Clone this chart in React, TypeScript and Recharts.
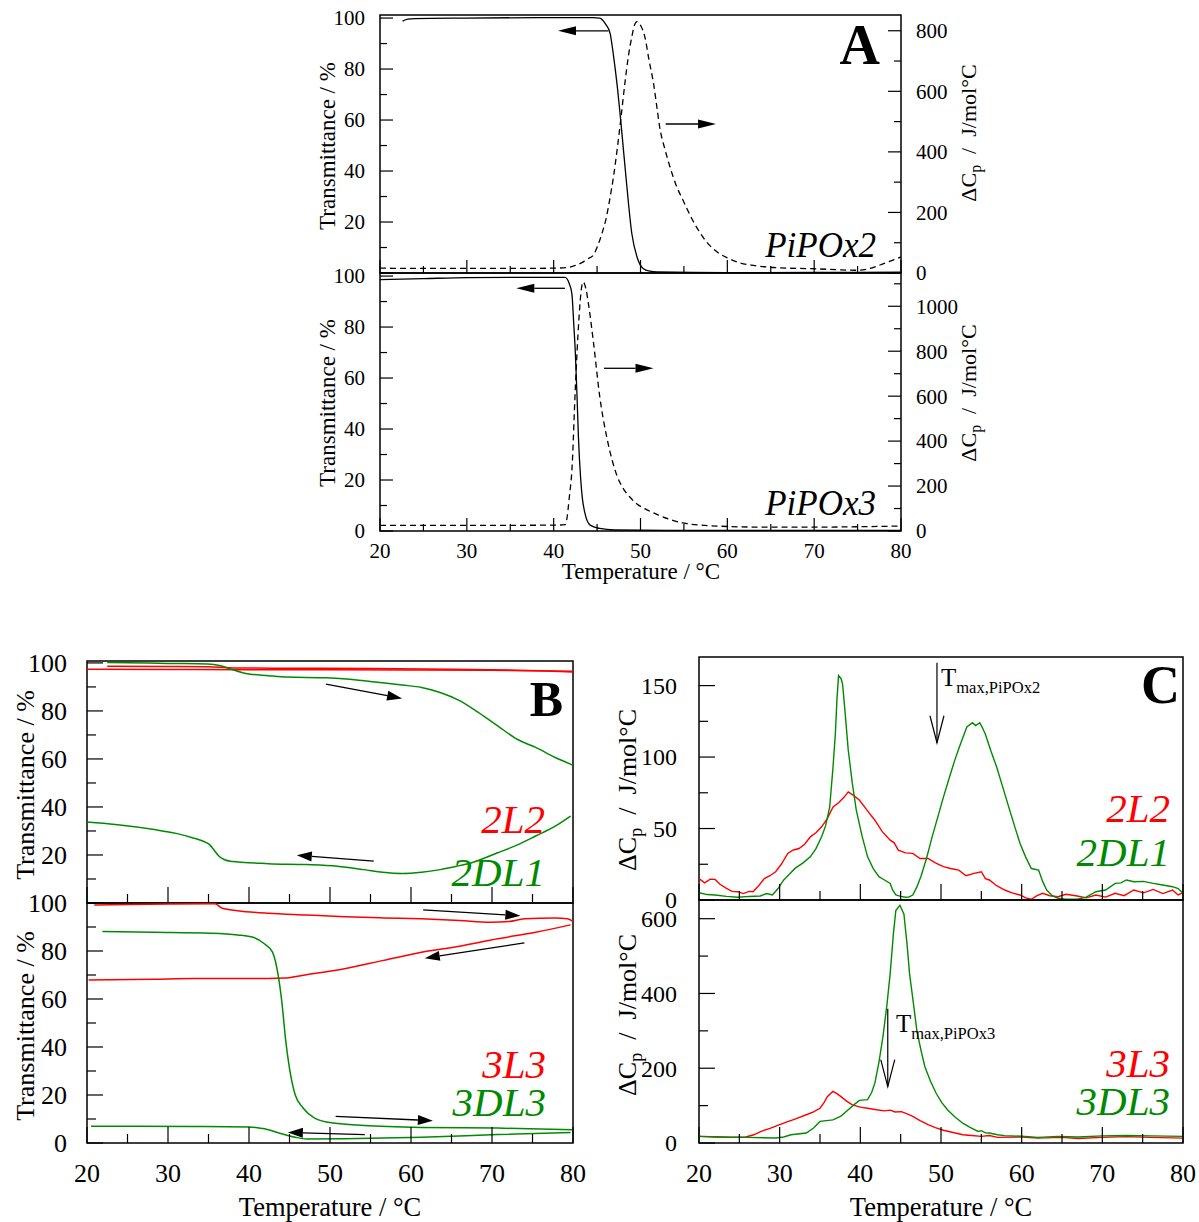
import { Line, LineChart, ReferenceArea, ReferenceLine, XAxis, YAxis } from "recharts";

type Pair = [number, number];
const SERIF = "'Liberation Serif', 'Times New Roman', serif";
const RED = "#ff0000";
const GREEN = "#008a00";

// ---- tick values ----
const xTicks = [20, 25, 30, 35, 40, 45, 50, 55, 60, 65, 70, 75, 80];
const xLabels = [20, 30, 40, 50, 60, 70, 80];
const transTicks = [0, 10, 20, 30, 40, 50, 60, 70, 80, 90, 100];
const transLabels = [0, 20, 40, 60, 80, 100];
const transLabelsUpper = [20, 40, 60, 80, 100];
const aTopCpTicks = [0, 100, 200, 300, 400, 500, 600, 700, 800];
const aTopCpLabels = [0, 200, 400, 600, 800];
const aBotCpTicks = [0, 100, 200, 300, 400, 500, 600, 700, 800, 900, 1000, 1100];
const aBotCpLabels = [0, 200, 400, 600, 800, 1000];
const cTopTicks = [0, 25, 50, 75, 100, 125, 150];
const cTopLabels = [0, 50, 100, 150];
const cBotTicks = [0, 100, 200, 300, 400, 500, 600];
const cBotLabels = [0, 200, 400, 600];

// ---- A: PiPOx2 ----
const aTopTrans: Pair[] = [
  [22.6, 98.8], [23.2, 99.6], [24, 99.8], [30, 100], [40, 100.2], [44.5, 100.2], [45.3, 100.0],
  [46.0, 97.5], [46.5, 94], [46.9, 85], [47.3, 74], [47.8, 57], [48.4, 35], [49.0, 15.5], [49.6, 6.3],
  [50.3, 1.8], [51.1, 0.7], [51.9, 0.4], [60, 0.1], [70, 0.2], [80, 0.3],
];
const aTopCp: Pair[] = [
  [20, 16], [25, 15], [30, 15], [35, 15], [40, 16], [41.5, 18], [42.5, 25], [43.3, 35], [43.8, 45],
  [44.6, 60], [45.0, 85], [45.5, 125], [46.1, 188], [46.5, 250], [46.9, 320], [47.3, 405], [47.7, 500],
  [48.2, 626], [48.6, 715], [49.0, 780], [49.3, 818], [49.6, 830], [50.0, 818], [50.5, 780], [51.0, 700],
  [51.5, 626], [51.9, 545], [52.2, 483], [52.8, 410], [53.4, 350], [54.1, 290], [54.9, 240], [55.9, 180],
  [56.9, 131], [57.8, 96], [58.8, 70], [60, 50], [61.5, 33], [63, 25], [64.5, 20], [67, 16], [70, 14],
  [72.5, 11], [74.9, 9], [76, 12], [77, 20], [78, 31], [79, 42], [80, 53],
];
// ---- A: PiPOx3 ----
const aBotTrans: Pair[] = [
  [20, 98.6], [25, 99.0], [30, 99.4], [35, 99.5], [40, 99.5], [41.3, 99.5], [41.8, 97], [42.1, 93],
  [42.3, 82], [42.5, 69.6], [42.7, 52], [42.85, 37], [43.1, 21], [43.3, 13], [43.6, 7], [44.2, 2.3],
  [45.3, 1.0], [47, 0.4], [55, 0.2], [80, 0.2],
];
const aBotCp: Pair[] = [
  [20, 25], [30, 25], [40, 26], [41.3, 28], [41.5, 49], [41.8, 150], [42.1, 271], [42.5, 641],
  [42.9, 938], [43.2, 1080], [43.4, 1108], [43.7, 1080], [44.0, 1012], [44.6, 834], [45.3, 600],
  [46.1, 420], [46.7, 320], [47.3, 245], [48.0, 190], [48.8, 150], [49.6, 120], [50.7, 95], [52, 72],
  [53.5, 50], [55, 35], [58.8, 22], [64.5, 17], [70, 17], [75, 19], [80, 22],
];

// ---- B: transmittance, 2L2 / 2DL1 ----
const bTopRedHeat: Pair[] = [
  [22.5, 98.6], [30, 98.5], [35, 98.4], [36.5, 98.2], [38, 97.9], [45, 97.8], [55, 97.7], [65, 97.4],
  [72, 97.0], [76, 96.7], [80, 96.2],
];
const bTopRedCool: Pair[] = [
  [20, 97.4], [30, 97.3], [40, 97.2], [50, 97.2], [60, 97.1], [70, 96.9], [80, 96.5],
];
const bTopGreenHeat: Pair[] = [
  [22.5, 100.2], [25, 100.1], [30, 99.8], [34.9, 99.6], [36.5, 98.8], [37.7, 97.5], [39.6, 95.6],
  [42.4, 94.7], [44.7, 94.1], [49.5, 93.8], [52, 93.3], [54.2, 92.6], [56.5, 91.7], [58.9, 90.8],
  [61.3, 89.8], [63.6, 87.7], [66.0, 84.3], [68.3, 79.4], [70.7, 73.8], [73.1, 68.2], [75.4, 64.8],
  [77.8, 60.6], [80, 57.4],
];
const bTopGreenCool: Pair[] = [
  [20, 33.7], [23.5, 32.7], [28.3, 30.6], [31, 29], [33.0, 27.2], [34.5, 25.5], [35.1, 24.4], [35.7, 22],
  [36.3, 19.5], [37.0, 18], [37.7, 17.4], [42.4, 16.4], [47.1, 16.0], [50.9, 15.3], [54.2, 13.9],
  [56.5, 12.8], [58.9, 12.3], [61.3, 12.8], [63.6, 13.9], [65.5, 15.2], [67.4, 16.7], [70.7, 20.9],
  [73, 24], [75.4, 27.9], [77.8, 32], [79.7, 36.2],
];
// ---- B: transmittance, 3L3 / 3DL3 ----
const bBotRedHeat: Pair[] = [
  [20.9, 99.2], [25, 99.4], [30, 99.6], [35.8, 99.7], [36.7, 97.8], [38.6, 96.8], [42.4, 95.7],
  [47.1, 95.0], [51.8, 94.3], [56.6, 93.8], [61.3, 93.4], [66.0, 92.7], [69.8, 92.0], [72.1, 92.3],
  [74.0, 93.4], [77.8, 93.7], [79.3, 93.4], [80, 92.4],
];
const bBotRedCool: Pair[] = [
  [20.2, 67.9], [28.3, 68.2], [33.0, 68.5], [37.7, 68.5], [42.4, 68.5], [44.3, 68.7], [47.1, 70.1],
  [51.8, 72.6], [56.6, 76.1], [61.3, 79.5], [66.0, 82.0], [70.7, 85.1], [75.4, 87.8], [79.7, 90.9],
];
const bBotGreenHeat: Pair[] = [
  [21.9, 88.1], [28.3, 87.8], [35.3, 87.4], [38.6, 86.7], [40.5, 85.7], [41.9, 83.0], [42.9, 79.5],
  [43.6, 69.9], [44.1, 57.4], [44.5, 43.6], [45.0, 31.1], [45.7, 20.1], [46.7, 14.5], [48.1, 10.4],
  [50.4, 8.3], [54.2, 7.3], [61.3, 6.5], [70.7, 6.2], [80, 5.5],
];
const bBotGreenCool: Pair[] = [
  [20.5, 7.0], [25.9, 7.0], [33.0, 6.9], [40.0, 6.7], [41.9, 5.9], [43.8, 4.1], [45.7, 2.4], [47.1, 1.7],
  [51.8, 1.8], [61.3, 2.4], [70.7, 3.5], [79.7, 4.4],
];

// ---- C: DSC, 2L2 / 2DL1 ----
const cTopRed: Pair[] = [
  [20, 15], [20.7, 12], [21.4, 14.5], [22, 14.4], [22.6, 11], [23.4, 8.1], [24.1, 6], [24.8, 5.8],
  [25.5, 4.5], [26.2, 6], [26.7, 5.8], [27.4, 10], [28.1, 15], [28.8, 17], [29.5, 19.8], [30.2, 25],
  [31.0, 32.6], [31.7, 35], [32.4, 36], [33.1, 39], [33.8, 44.2], [34.5, 47], [35.2, 51.2], [35.9, 57],
  [36.6, 65], [37.3, 68], [38.0, 72], [38.5, 75.6], [39.2, 73], [39.9, 69.8], [40.8, 63], [41.8, 55.8],
  [42.7, 48], [43.7, 41.9], [44.2, 40], [44.7, 34.9], [45.6, 33], [46.5, 32.6], [47.4, 29], [48.4, 29.1],
  [49.3, 26], [50.3, 23.3], [51.2, 22], [52.2, 20.9], [53.1, 17], [54.1, 18.6], [55.0, 19.8], [55.5, 15],
  [56.0, 14], [56.9, 10], [57.9, 7], [58.8, 5], [59.8, 3.5], [60.5, 1.5], [61.2, 0.5], [61.9, 3],
  [62.6, 4.7], [63.5, 3], [64.5, 2.3], [65.5, 4], [66.9, 2.8], [68, 1.5], [69.2, 3.5], [70.4, 2],
  [71.6, 4.7], [72.7, 3], [73.9, 7], [75.1, 5], [76.3, 7.4], [77.5, 4.5], [78.7, 7], [79.4, 3.5], [80, 5.1],
];
const cTopGreen: Pair[] = [
  [20, 5.1], [21, 3.8], [22, 3.5], [23.4, 2.5], [24.8, 1.9], [26.2, 2.5], [27.6, 2.8], [28.4, 4.5],
  [29.1, 3.5], [29.8, 8], [30.5, 14], [31.2, 18], [31.9, 22.1], [32.9, 26], [33.8, 30.2], [34.5, 36],
  [35.2, 44.2], [35.7, 52], [36.2, 65], [36.6, 92], [36.9, 116], [37.1, 140], [37.3, 157], [37.6, 155],
  [37.8, 151], [38.1, 132], [38.5, 105], [39.0, 82], [39.5, 62.8], [40.2, 45], [40.9, 30.2], [41.6, 22],
  [42.3, 16.3], [43.0, 14], [43.7, 11.6], [44.0, 7], [44.4, 3.5], [45.0, 2.5], [45.6, 1.9], [46.0, 2],
  [46.5, 3.5], [47.0, 9], [47.5, 16.3], [48.2, 29], [48.9, 44.2], [49.6, 58], [50.3, 72], [51.0, 85],
  [51.7, 97.7], [52.4, 109], [53.2, 121], [53.9, 124], [54.3, 122], [54.8, 124], [55.1, 121],
  [55.5, 116], [56.2, 104], [56.9, 93], [57.6, 80], [58.4, 65], [59.1, 52], [59.8, 39.5], [60.5, 30],
  [61.2, 22], [62.1, 20.9], [62.6, 13], [63.1, 7], [63.8, 3], [64.5, 1.2], [65.5, 0.5], [66.9, 0.5],
  [68, 2], [69.2, 5.8], [70.4, 7], [71.6, 11.6], [72.3, 12], [73, 14], [73.9, 12.8], [75.1, 13],
  [76.3, 11.6], [77.5, 10.5], [78.7, 9.3], [79.4, 8], [80, 4.7],
];
// ---- C: DSC, 3L3 / 3DL3 ----
const cBotRed: Pair[] = [
  [20, 17.8], [22, 16], [24, 15], [25.8, 16], [26.8, 22], [27.7, 31], [28.8, 39], [30, 49], [31, 57],
  [31.9, 64], [33.3, 75.6], [34.2, 83], [35, 93], [35.5, 108], [35.9, 124], [36.6, 138], [37.1, 132],
  [37.6, 124], [38.3, 112], [39, 102], [40, 96], [40.9, 93], [42, 89], [43.0, 86], [43.7, 88], [44.3, 83],
  [45.1, 84], [45.8, 78], [46.5, 71], [47.4, 60], [48.4, 49], [49.3, 41], [50.3, 34], [51.5, 28],
  [52.7, 22], [53.8, 20], [55, 17.8], [56, 20], [57, 15], [60, 16], [62, 13], [65, 15], [67, 12],
  [70, 15], [73, 17], [76, 15], [80, 13],
];
const cBotGreen: Pair[] = [
  [20, 17.8], [23, 16], [26, 15], [29.5, 13.3], [30.5, 16], [31.4, 22], [33.3, 26.7], [34.2, 40],
  [35, 57.8], [36.6, 62], [37.6, 72], [38.5, 89], [39.3, 104], [39.9, 114], [40.9, 116], [41.4, 135],
  [41.8, 160], [42.3, 215], [42.8, 284], [43.3, 370], [43.7, 453], [44.1, 560], [44.4, 622], [44.9, 636],
  [45.4, 613], [45.8, 530], [46.1, 453], [46.6, 370], [47.0, 302], [47.5, 250], [48.0, 204], [48.7, 165],
  [49.4, 133], [50.1, 108], [50.8, 89], [51.7, 70], [52.7, 53], [53.6, 42], [54.6, 31], [55, 33],
  [55.5, 27], [56, 26.7], [57, 22], [57.9, 19.6], [60, 18], [62, 15], [64.5, 17.8], [67, 16], [70, 19],
  [73, 20], [76, 19], [80, 17.8],
];

// ---- annotation arrows (data coords) ----
const aTopArrows = [
  { from: [46.3, 95.0] as Pair, to: [40.5, 95.0] as Pair, axis: "l" },
  { from: [52.9, 492] as Pair, to: [58.7, 492] as Pair, axis: "r" },
];
const aBotArrows = [
  { from: [41.3, 95.2] as Pair, to: [35.7, 95.2] as Pair, axis: "l" },
  { from: [45.8, 724] as Pair, to: [51.5, 724] as Pair, axis: "r" },
];
const bTopArrows = [
  { from: [49.5, 91.2] as Pair, to: [58.9, 85.2] as Pair, axis: "l" },
  { from: [55.4, 17.4] as Pair, to: [45.9, 19.9] as Pair, axis: "l" },
];
const bBotArrows = [
  { from: [61.5, 97.1] as Pair, to: [73.5, 94.7] as Pair, axis: "l" },
  { from: [74.0, 83.4] as Pair, to: [61.7, 77.0] as Pair, axis: "l" },
  { from: [50.7, 11.1] as Pair, to: [62.7, 9.3] as Pair, axis: "l" },
  { from: [54.3, 3.5] as Pair, to: [44.8, 4.4] as Pair, axis: "l" },
];
const cTopArrows = [{ from: [49.5, 166] as Pair, to: [49.5, 110] as Pair, axis: "l" }];
const cBotArrows = [{ from: [43.4, 359] as Pair, to: [43.4, 151] as Pair, axis: "l" }];

const pts = (a: Pair[]) => a.map(([t, v]) => ({ t, v }));

interface Series { data: Pair[]; color: string; dash?: string; axis?: string; linear?: boolean }
interface Arrow { from: Pair; to: Pair; axis: string }
interface Panel {
  box: [number, number, number, number];
  yDom: [number, number]; yTicks: number[]; yLabels: number[]; yMajor: number[];
  rDom?: [number, number]; rTicks?: number[]; rLabels?: number[];
  showX: boolean; series: Series[]; arrows: Arrow[];
  fs: number; xfs: number; big: number; small: number; gap: number; xDy: number; lw: number;
  openArrow?: boolean; head: number; half: number;
}

const arrowShape = (open: boolean, head: number, half: number) => (p: any) => {
  const { x1, y1, x2, y2 } = p;
  const dx = x2 - x1, dy = y2 - y1;
  const L = Math.hypot(dx, dy) || 1;
  const ux = dx / L, uy = dy / L;
  const bx = x2 - ux * head, by = y2 - uy * head;
  const px = -uy * half, py = ux * half;
  if (open) {
    return (
      <g>
        <line x1={x1} y1={y1} x2={x2} y2={y2} stroke="#000" strokeWidth={1.2} />
        <polyline points={`${bx + px},${by + py} ${x2},${y2} ${bx - px},${by - py}`} fill="none" stroke="#000" strokeWidth={1.2} />
      </g>
    );
  }
  return (
    <g>
      <line x1={x1} y1={y1} x2={bx} y2={by} stroke="#000" strokeWidth={1.3} />
      <polygon points={`${bx + px},${by + py} ${x2},${y2} ${bx - px},${by - py}`} fill="#000" />
    </g>
  );
};

function PanelChart({ c }: { c: Panel }) {
  const [L, T, R, B] = c.box;
  const pad = 80;
  const yW = 60, xH = 40;
  const W = R - L + 2 * pad, H = B - T + 2 * pad;

  const xTick = (p: any) => {
    const v = p.payload.value;
    const major = xLabels.includes(v);
    return (
      <g>
        <line x1={p.x} y1={p.y} x2={p.x} y2={p.y - (major ? c.big : c.small)} stroke="#000" strokeWidth={1.2} />
        {c.showX && major && (
          <text x={p.x} y={p.y + c.xDy} textAnchor="middle" fontSize={c.xfs} fontFamily={SERIF} fill="#000">{v}</text>
        )}
      </g>
    );
  };
  const yTick = (labels: number[], majors: number[], side: number) => (p: any) => {
    const v = p.payload.value;
    const major = majors.includes(v);
    return (
      <g>
        <line x1={p.x} y1={p.y} x2={p.x + side * (major ? c.big : c.small)} y2={p.y} stroke="#000" strokeWidth={1.2} />
        {labels.includes(v) && (
          <text x={p.x - side * c.gap} y={p.y} dy="0.35em" textAnchor={side > 0 ? "end" : "start"} fontSize={c.fs} fontFamily={SERIF} fill="#000">{v}</text>
        )}
      </g>
    );
  };

  return (
    <div style={{ position: "absolute", left: L - pad, top: T - pad, width: W, height: H }}>
      <LineChart
        width={W}
        height={H}
        margin={{ top: pad, bottom: pad - xH, left: pad - yW, right: c.rDom ? pad - yW : pad }}
      >
        <XAxis type="number" dataKey="t" domain={[20, 80]} ticks={xTicks} interval={0} allowDataOverflow
          height={xH} tickSize={0} tickMargin={0} axisLine={false} tickLine={false} tick={xTick} />
        <YAxis yAxisId="l" orientation="left" type="number" domain={c.yDom} ticks={c.yTicks} interval={0}
          allowDataOverflow width={yW} tickSize={0} tickMargin={0} axisLine={false} tickLine={false}
          tick={yTick(c.yLabels, c.yMajor, 1)} />
        {c.rDom && (
          <YAxis yAxisId="r" orientation="right" type="number" domain={c.rDom} ticks={c.rTicks} interval={0}
            allowDataOverflow width={yW} tickSize={0} tickMargin={0} axisLine={false} tickLine={false}
            tick={yTick(c.rLabels || [], c.rLabels || [], -1)} />
        )}
        {c.series.map((s, i) => (
          <Line key={i} yAxisId={s.axis || "l"} data={pts(s.data)} dataKey="v" type={s.linear ? "linear" : "monotone"}
            stroke={s.color} strokeWidth={c.lw} strokeDasharray={s.dash} dot={false} activeDot={false}
            isAnimationActive={false} />
        ))}
        {c.arrows.map((a, i) => (
          <ReferenceLine key={"a" + i} yAxisId={a.axis}
            segment={[{ x: a.from[0], y: a.from[1] }, { x: a.to[0], y: a.to[1] }]}
            shape={arrowShape(!!c.openArrow, c.head, c.half)} />
        ))}
        <ReferenceArea yAxisId="l" x1={20} x2={80} y1={c.yDom[0]} y2={c.yDom[1]} fill="none" fillOpacity={0}
          stroke="#000" strokeWidth={1.5} />
      </LineChart>
    </div>
  );
}

const panels: Panel[] = [
  {
    box: [380, 15, 901, 273], yDom: [0, 101.2], yTicks: transTicks, yLabels: transLabelsUpper, yMajor: transLabels,
    rDom: [0, 852], rTicks: aTopCpTicks, rLabels: aTopCpLabels, showX: false,
    series: [
      { data: aTopTrans, color: "#000" },
      { data: aTopCp, color: "#000", dash: "6 4", axis: "r" },
    ],
    arrows: aTopArrows, fs: 21, xfs: 21, big: 13, small: 7, gap: 15, xDy: 27, lw: 1.3, head: 18, half: 4.5,
  },
  {
    box: [380, 273, 901, 531], yDom: [0, 101.2], yTicks: transTicks, yLabels: transLabels, yMajor: transLabels,
    rDom: [0, 1148], rTicks: aBotCpTicks, rLabels: aBotCpLabels, showX: true,
    series: [
      { data: aBotTrans, color: "#000" },
      { data: aBotCp, color: "#000", dash: "6 4", axis: "r" },
    ],
    arrows: aBotArrows, fs: 21, xfs: 21, big: 13, small: 7, gap: 15, xDy: 27, lw: 1.3, head: 18, half: 4.5,
  },
  {
    box: [87, 661, 573, 903], yDom: [0, 100.8], yTicks: transTicks, yLabels: transLabelsUpper, yMajor: transLabels,
    showX: false,
    series: [
      { data: bTopRedCool, color: RED },
      { data: bTopRedHeat, color: RED },
      { data: bTopGreenHeat, color: GREEN },
      { data: bTopGreenCool, color: GREEN },
    ],
    arrows: bTopArrows, fs: 26, xfs: 26, big: 16, small: 9, gap: 20, xDy: 39, lw: 1.5, head: 15, half: 5,
  },
  {
    box: [87, 903, 573, 1143], yDom: [0, 100], yTicks: transTicks, yLabels: transLabels, yMajor: transLabels,
    showX: true,
    series: [
      { data: bBotRedHeat, color: RED },
      { data: bBotRedCool, color: RED },
      { data: bBotGreenHeat, color: GREEN },
      { data: bBotGreenCool, color: GREEN },
    ],
    arrows: bBotArrows, fs: 26, xfs: 26, big: 16, small: 9, gap: 20, xDy: 39, lw: 1.5, head: 15, half: 5,
  },
  {
    box: [699, 657, 1183, 900], yDom: [0, 170], yTicks: cTopTicks, yLabels: cTopLabels, yMajor: cTopLabels,
    showX: false,
    series: [
      { data: cTopRed, color: RED, linear: true },
      { data: cTopGreen, color: GREEN, linear: true },
    ],
    arrows: cTopArrows, fs: 24, xfs: 26, big: 16, small: 9, gap: 22, xDy: 39, lw: 1.4, openArrow: true, head: 27, half: 7,
  },
  {
    box: [699, 900, 1183, 1143], yDom: [0, 650], yTicks: cBotTicks, yLabels: cBotLabels, yMajor: cBotLabels,
    showX: true,
    series: [
      { data: cBotRed, color: RED, linear: true },
      { data: cBotGreen, color: GREEN, linear: true },
    ],
    arrows: cBotArrows, fs: 24, xfs: 26, big: 16, small: 9, gap: 22, xDy: 39, lw: 1.4, openArrow: true, head: 27, half: 7,
  },
];

function VTitle({ x, y, size, cp }: { x: number; y: number; size: number; cp?: boolean }) {
  return (
    <text x={x} y={y} transform={`rotate(-90 ${x} ${y})`} textAnchor="middle" dominantBaseline="central"
      fontSize={size} fontFamily={SERIF} fill="#000">
      {cp ? (
        <>
          ΔC<tspan dy={size * 0.3} fontSize={size * 0.72}>p</tspan>
          <tspan dy={-size * 0.3}>{"\u00a0\u00a0/\u00a0\u00a0J/mol°C"}</tspan>
        </>
      ) : (
        "Transmittance / %"
      )}
    </text>
  );
}

function Labels() {
  const it = { fontFamily: SERIF, fontStyle: "italic" as const };
  return (
    <svg width={1199} height={1222} style={{ position: "absolute", left: 0, top: 0, pointerEvents: "none" }}>
      <VTitle x={327} y={146} size={23} />
      <VTitle x={327} y={403} size={23} />
      <VTitle x={968} y={133} size={22} cp />
      <VTitle x={968} y={393} size={22} cp />
      <text x={641} y={579} textAnchor="middle" fontSize={23} fontFamily={SERIF}>Temperature / °C</text>

      <VTitle x={25} y={785} size={26} />
      <VTitle x={25} y={1026} size={26} />
      <text x={330} y={1216} textAnchor="middle" fontSize={26.5} fontFamily={SERIF}>Temperature / °C</text>

      <VTitle x={627} y={790} size={26} cp />
      <VTitle x={627} y={1015} size={26} cp />
      <text x={941} y={1216} textAnchor="middle" fontSize={26.5} fontFamily={SERIF}>Temperature / °C</text>

      <text x={880} y={64} textAnchor="end" fontSize={56} fontWeight="bold" fontFamily={SERIF}>A</text>
      <text x={563} y={716} textAnchor="end" fontSize={50} fontWeight="bold" fontFamily={SERIF}>B</text>
      <text x={1180} y={703} textAnchor="end" fontSize={54} fontWeight="bold" fontFamily={SERIF}>C</text>

      <text x={876} y={257} textAnchor="end" fontSize={35} {...it}>PiPOx2</text>
      <text x={876} y={515} textAnchor="end" fontSize={35} {...it}>PiPOx3</text>

      <text x={545} y={833} textAnchor="end" fontSize={41} fill={RED} {...it}>2L2</text>
      <text x={545} y={886} textAnchor="end" fontSize={41} fill={GREEN} {...it}>2DL1</text>
      <text x={546} y={1078} textAnchor="end" fontSize={41} fill={RED} {...it}>3L3</text>
      <text x={546} y={1116} textAnchor="end" fontSize={41} fill={GREEN} {...it}>3DL3</text>

      <text x={1170} y={822} textAnchor="end" fontSize={41} fill={RED} {...it}>2L2</text>
      <text x={1170} y={866} textAnchor="end" fontSize={41} fill={GREEN} {...it}>2DL1</text>
      <text x={1170} y={1077} textAnchor="end" fontSize={41} fill={RED} {...it}>3L3</text>
      <text x={1170} y={1115} textAnchor="end" fontSize={41} fill={GREEN} {...it}>3DL3</text>

      <text x={941} y={686} fontSize={25} fontFamily={SERIF}>
        T<tspan dy={7} fontSize={16.5}>max,PiPOx2</tspan>
      </text>
      <text x={896} y={1032} fontSize={25} fontFamily={SERIF}>
        T<tspan dy={7} fontSize={16.5}>max,PiPOx3</tspan>
      </text>
    </svg>
  );
}

export default function App() {
  return (
    <div style={{ position: "absolute", left: 0, top: 0, width: 1199, height: 1222, background: "#fff", fontFamily: SERIF }}>
      {panels.map((p, i) => (
        <PanelChart key={i} c={p} />
      ))}
      <Labels />
    </div>
  );
}
